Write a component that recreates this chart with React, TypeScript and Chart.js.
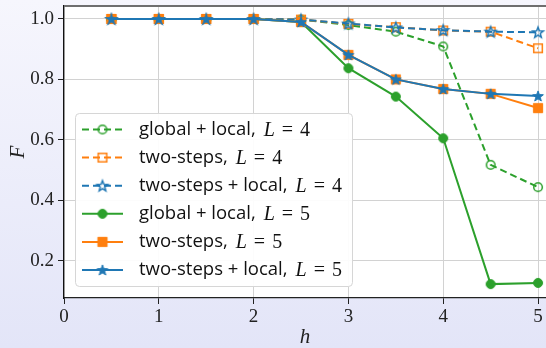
import React, { useEffect, useRef } from 'react';
import { Chart, registerables } from 'chart.js';

Chart.register(...registerables);

// ---- data ----
const hValues = [0.5, 1, 1.5, 2, 2.5, 3, 3.5, 4, 4.5, 5];
const globalLocalL4 = [1, 1, 1, 1, 0.998, 0.98, 0.958, 0.909, 0.517, 0.443];
const twoStepsL4 = [1, 1, 1, 1, 0.998, 0.984, 0.973, 0.962, 0.958, 0.903];
const twoStepsLocalL4 = [1, 1, 1, 1, 0.998, 0.985, 0.972, 0.963, 0.958, 0.956];
const globalLocalL5 = [1, 1, 1, 1, 0.99, 0.837, 0.743, 0.605, 0.122, 0.126];
const twoStepsL5 = [1, 1, 1, 1, 0.99, 0.881, 0.8, 0.768, 0.752, 0.705];
const twoStepsLocalL5 = [1, 1, 1, 1, 0.99, 0.881, 0.8, 0.768, 0.752, 0.745];

const seriesNames = ['global + local', 'two-steps', 'two-steps + local', 'global + local', 'two-steps', 'two-steps + local'];
const seriesL = [4, 4, 4, 5, 5, 5];
const seriesValues = [globalLocalL4, twoStepsL4, twoStepsLocalL4, globalLocalL5, twoStepsL5, twoStepsLocalL5];

const xTicks = [0, 1, 2, 3, 4, 5];
const yTicks = [0.2, 0.4, 0.6, 0.8, 1.0];

const xAxisTitle = 'h';
const yAxisTitle = 'F';

// ---- styles ----
const GREEN = '#2ca02c';
const ORANGE = '#ff7f0e';
const BLUE = '#1f77b4';
const seriesColors = [GREEN, ORANGE, BLUE, GREEN, ORANGE, BLUE];
const seriesShapes = ['circle', 'square', 'star', 'circle', 'square', 'star'];
const seriesFilled = [false, false, false, true, true, true];

const SERIF = "'Liberation Serif', 'DejaVu Serif', serif";
const SANS = "'Open Sans', Lato, 'DejaVu Sans', sans-serif";

function makeMarker(shape: string, color: string, filled: boolean): HTMLCanvasElement {
  const s = 16;
  const c = document.createElement('canvas');
  c.width = s;
  c.height = s;
  const ctx = c.getContext('2d')!;
  const cx = s / 2;
  const cy = s / 2;
  ctx.strokeStyle = color;
  ctx.fillStyle = color;
  ctx.lineWidth = filled ? 1 : 1.5;
  ctx.lineJoin = 'miter';
  ctx.beginPath();
  if (shape === 'circle') {
    ctx.arc(cx, cy, filled ? 4.5 : 4.3, 0, Math.PI * 2);
  } else if (shape === 'square') {
    const h = filled ? 4.6 : 4.3;
    ctx.rect(cx - h, cy - h, 2 * h, 2 * h);
  } else {
    const R = 5.6;
    const r = R * 0.42;
    for (let i = 0; i < 10; i++) {
      const a = -Math.PI / 2 + (i * Math.PI) / 5;
      const rad = i % 2 === 0 ? R : r;
      const px = cx + rad * Math.cos(a);
      const py = cy + 0.5 + rad * Math.sin(a);
      if (i === 0) ctx.moveTo(px, py);
      else ctx.lineTo(px, py);
    }
    ctx.closePath();
  }
  if (filled) ctx.fill();
  ctx.stroke();
  return c;
}

const backgroundPlugin = {
  id: 'bgPlugin',
  beforeDraw(chart: any) {
    const { ctx, width, height, chartArea } = chart;
    ctx.save();
    const g = ctx.createLinearGradient(0, 0, 0, height);
    g.addColorStop(0, '#f6f6fd');
    g.addColorStop(1, '#e3e5f8');
    ctx.fillStyle = g;
    ctx.fillRect(0, 0, width, height);
    ctx.fillStyle = '#ffffff';
    ctx.fillRect(chartArea.left, chartArea.top, chartArea.right - chartArea.left, chartArea.bottom - chartArea.top);
    ctx.restore();
  },
  afterDraw(chart: any) {
    const { ctx, chartArea } = chart;
    ctx.save();
    ctx.strokeStyle = '#6f6f6f';
    ctx.lineWidth = 2;
    ctx.beginPath();
    ctx.moveTo(chartArea.left, chartArea.top);
    ctx.lineTo(chartArea.right, chartArea.top);
    ctx.stroke();
    ctx.restore();
  },
};

const legendPlugin = {
  id: 'inlineLegend',
  afterDatasetsDraw(chart: any) {
    const { ctx } = chart;
    const bx = 75.5;
    const by = 113.5;
    const bw = 277;
    const bh = 173;
    ctx.save();
    ctx.beginPath();
    ctx.roundRect(bx, by, bw, bh, 4);
    ctx.fillStyle = 'rgba(255,255,255,0.92)';
    ctx.fill();
    ctx.strokeStyle = '#d6d6d6';
    ctx.lineWidth = 1;
    ctx.stroke();

    const rowY0 = 129.5;
    const rowStep = 28.1;
    chart.data.datasets.forEach((ds: any, i: number) => {
      const y = rowY0 + i * rowStep;
      ctx.strokeStyle = seriesColors[i];
      ctx.lineWidth = 2;
      ctx.setLineDash(seriesL[i] === 4 ? [7, 4] : []);
      ctx.beginPath();
      ctx.moveTo(82, y);
      ctx.lineTo(123, y);
      ctx.stroke();
      ctx.setLineDash([]);
      const m = ds.pointStyle as HTMLCanvasElement;
      ctx.drawImage(m, 102.5 - m.width / 2, y - m.height / 2);

      let tx = 139;
      ctx.fillStyle = '#111111';
      ctx.textBaseline = 'middle';
      ctx.textAlign = 'left';
      ctx.font = `18.5px ${SANS}`;
      const main = `${seriesNames[i]},`;
      ctx.fillText(main, tx, y);
      tx += ctx.measureText(main).width + 8;
      ctx.font = `italic 20px ${SERIF}`;
      ctx.fillText('L', tx, y + 1);
      tx += ctx.measureText('L').width + 7;
      ctx.font = `20px ${SERIF}`;
      ctx.fillText('=', tx, y + 1);
      tx += ctx.measureText('=').width + 7;
      ctx.fillText(String(seriesL[i]), tx, y + 1);
    });
    ctx.restore();
  },
};

export default function App() {
  const canvasRef = useRef<HTMLCanvasElement | null>(null);

  useEffect(() => {
    document.body.style.margin = '0';
    const canvas = canvasRef.current;
    if (!canvas) return;

    const datasets = seriesValues.map((vals, i) => ({
      label: `${seriesNames[i]}, L = ${seriesL[i]}`,
      data: vals.map((v, j) => ({ x: hValues[j], y: v })),
      borderColor: seriesColors[i],
      backgroundColor: seriesColors[i],
      borderWidth: 2,
      borderDash: seriesL[i] === 4 ? [7, 4] : [],
      pointStyle: makeMarker(seriesShapes[i], seriesColors[i], seriesFilled[i]),
      pointRadius: 5,
      tension: 0,
      fill: false,
      order: 10 - i,
    }));

    const chart = new Chart(canvas, {
      type: 'line',
      data: { datasets },
      plugins: [backgroundPlugin, legendPlugin],
      options: {
        animation: false,
        responsive: false,
        devicePixelRatio: 1,
        layout: { autoPadding: false, padding: { top: 6, right: 0, left: 0, bottom: 0 } },
        plugins: { legend: { display: false }, tooltip: { enabled: false } },
        scales: {
          x: {
            type: 'linear',
            min: 0,
            max: 5.084,
            afterBuildTicks: (scale: any) => {
              scale.ticks = xTicks.map((v) => ({ value: v }));
            },
            afterFit: (scale: any) => {
              scale.height = 50;
              scale.paddingLeft = 0;
              scale.paddingRight = 0;
            },
            grid: { color: '#d2d2d2', lineWidth: 1, tickColor: '#222', tickLength: 6, drawTicks: true },
            border: { color: '#222', width: 1.3 },
            ticks: {
              color: '#222',
              font: { family: SERIF, size: 19 },
              padding: 2,
              maxRotation: 0,
              autoSkip: false,
              callback: (v: any) => String(v),
            },
            title: {
              display: true,
              text: xAxisTitle,
              color: '#222',
              font: { family: SERIF, size: 21, style: 'italic', lineHeight: 1 },
              padding: { top: 0, bottom: 0 },
            },
          },
          y: {
            type: 'linear',
            min: 0.076,
            max: 1.043,
            afterBuildTicks: (scale: any) => {
              scale.ticks = yTicks.map((v) => ({ value: v }));
            },
            afterFit: (scale: any) => {
              scale.width = 64;
              scale.paddingTop = 0;
              scale.paddingBottom = 0;
            },
            grid: { color: '#d2d2d2', lineWidth: 1, tickColor: '#222', tickLength: 6, drawTicks: true },
            border: { color: '#111', width: 1.3 },
            ticks: {
              color: '#222',
              font: { family: SERIF, size: 19 },
              padding: 4,
              autoSkip: false,
              callback: (v: any) => Number(v).toFixed(1),
            },
            title: {
              display: true,
              text: yAxisTitle,
              color: '#222',
              font: { family: SERIF, size: 21, style: 'italic', lineHeight: 1.2 },
              padding: { top: 6, bottom: 0 },
            },
          },
        },
      },
    } as any);

    return () => {
      chart.destroy();
    };
  }, []);

  return (
    <div style={{ width: 546, height: 348 }}>
      <canvas ref={canvasRef} width={546} height={348} style={{ display: 'block', width: 546, height: 348 }} />
    </div>
  );
}
